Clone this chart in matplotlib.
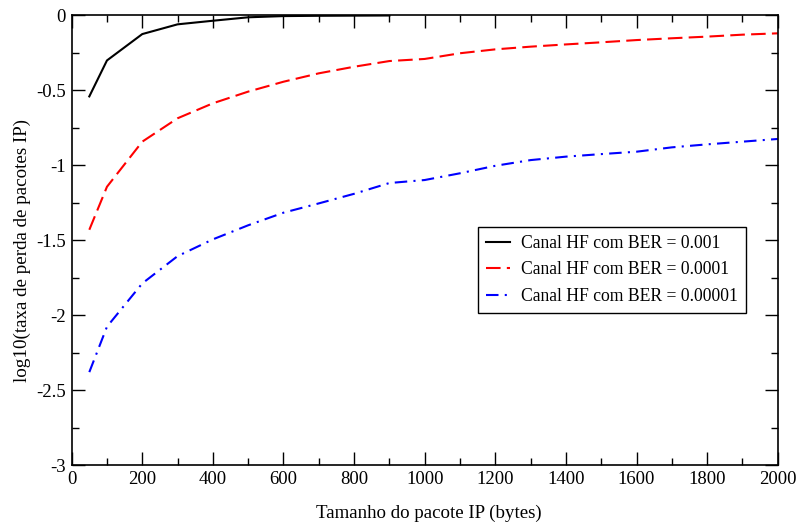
import matplotlib
matplotlib.use("Agg")
import matplotlib.pyplot as plt
from matplotlib.ticker import MultipleLocator, FuncFormatter

plt.rcParams['font.family'] = ['Liberation Serif', 'DejaVu Serif']
plt.rcParams['axes.unicode_minus'] = False

# tamanhos de pacote (bytes)
x_ber3 = [50, 100, 200, 300, 400, 500, 600, 700, 800, 900]
y_ber3 = [-0.54, -0.30, -0.124, -0.059, -0.035, -0.012, -0.004, -0.002, -0.001, 0.0]

x_ber4 = [50, 100, 200, 300, 400, 500, 600, 700, 800, 900, 1000,
          1100, 1200, 1300, 1400, 1500, 1600, 1700, 1800, 1900, 2000]
y_ber4 = [-1.43, -1.143, -0.842, -0.686, -0.586, -0.508, -0.442, -0.386, -0.342, -0.304, -0.29,
          -0.252, -0.226, -0.208, -0.193, -0.179, -0.164, -0.152, -0.141, -0.128, -0.119]

x_ber5 = x_ber4
y_ber5 = [-2.38, -2.077, -1.788, -1.606, -1.494, -1.40, -1.316, -1.254, -1.19, -1.118, -1.098,
          -1.053, -1.003, -0.965, -0.942, -0.925, -0.909, -0.880, -0.860, -0.842, -0.824]

labels = ["Canal HF com BER = 0.001", "Canal HF com BER = 0.0001", "Canal HF com BER = 0.00001"]

fig = plt.figure(figsize=(7.98, 5.27), dpi=100)
ax = fig.add_axes([0.0898, 0.1176, 0.8848, 0.853])

ax.plot(x_ber3, y_ber3, color='black', lw=1.5, ls='-', label=labels[0])
ax.plot(x_ber4, y_ber4, color='red', lw=1.5, ls=(0, (7, 3)), label=labels[1])
ax.plot(x_ber5, y_ber5, color='blue', lw=1.5, ls=(0, (6, 3, 1, 3)), label=labels[2])

ax.set_xlim(0, 2000)
ax.set_ylim(-3, 0)
ax.xaxis.set_major_locator(MultipleLocator(200))
ax.xaxis.set_minor_locator(MultipleLocator(100))
ax.yaxis.set_major_locator(MultipleLocator(0.5))
ax.yaxis.set_minor_locator(MultipleLocator(0.25))
ax.yaxis.set_major_formatter(FuncFormatter(lambda v, p: f"{v:g}"))

ax.tick_params(which='both', direction='in', top=True, right=True, labelsize=13.5, width=1)
ax.tick_params(which='major', length=9.5, pad=4)
ax.tick_params(which='minor', length=5)
for s in ax.spines.values():
    s.set_linewidth(1.2)

ax.set_xlabel("Tamanho do pacote IP (bytes)", fontsize=13.6, va='center')
ax.set_ylabel("log10(taxa de perda de pacotes IP)", fontsize=13.7, va='center')
ax.xaxis.set_label_coords(0.506, -0.107)
ax.yaxis.set_label_coords(-0.070, 0.478)

leg = ax.legend(loc='upper left', bbox_to_anchor=(0.575, 0.53), fontsize=12.7,
                fancybox=False, edgecolor='black', framealpha=1, handlelength=1.4,
                borderpad=0.45, labelspacing=0.55, handletextpad=0.6, borderaxespad=0)
leg.get_frame().set_linewidth(1.0)

plt.savefig("out.png", dpi=100)
plt.close()
